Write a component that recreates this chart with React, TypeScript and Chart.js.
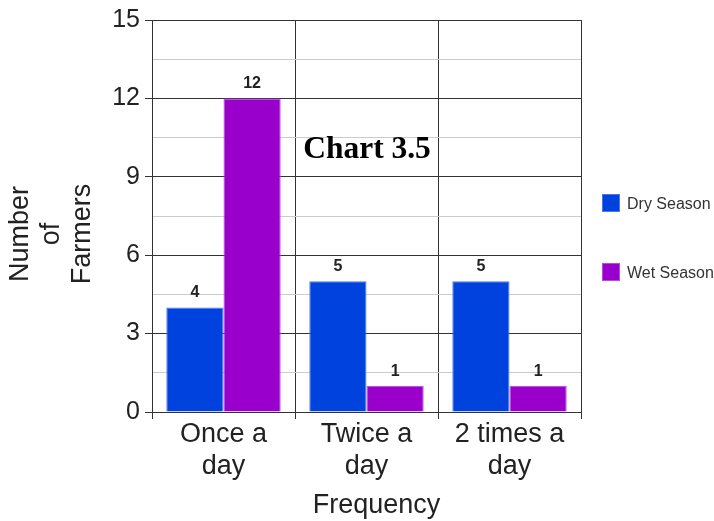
import React, { useEffect, useRef } from "react";
import { Chart, registerables } from "chart.js";

Chart.register(...registerables);

const categories: string[][] = [["Once a", "day"], ["Twice a", "day"], ["2 times a", "day"]];
const drySeason: number[] = [4, 5, 5];
const wetSeason: number[] = [12, 1, 1];
const seriesNames: string[] = ["Dry Season", "Wet Season"];
const yTitleLines: string[] = ["Number", "of", "Farmers"];
const xTitle = "Frequency";
const chartTitle = "Chart 3.5";

const FONT = "'Liberation Sans', Arial, sans-serif";

const overlayPlugin = {
  id: "overlay",
  afterDraw(chart: any) {
    const ctx = chart.ctx as CanvasRenderingContext2D;
    const area = chart.chartArea;
    ctx.save();
    // data labels
    ctx.font = `bold 16px ${FONT}`;
    ctx.fillStyle = "#222";
    ctx.textAlign = "center";
    ctx.textBaseline = "alphabetic";
    chart.data.datasets.forEach((ds: any, di: number) => {
      const meta = chart.getDatasetMeta(di);
      meta.data.forEach((bar: any, i: number) => {
        ctx.fillText(String(ds.data[i]), bar.x, bar.y - 10);
      });
    });
    // chart title
    ctx.font = `bold 31.5px 'Liberation Serif', 'Times New Roman', serif`;
    ctx.fillStyle = "#000";
    ctx.fillText(chartTitle, (area.left + area.right) / 2 + 0.5, area.top + 138);
    // x axis title
    ctx.font = `27px ${FONT}`;
    ctx.fillStyle = "#222";
    ctx.fillText(xTitle, (area.left + area.right) / 2 + 10, 513);
    // y axis title
    ctx.textBaseline = "middle";
    const cy = (area.top + area.bottom) / 2 + 18;
    yTitleLines.forEach((line, i) => {
      ctx.save();
      ctx.translate(21 + i * 31, cy);
      ctx.rotate(-Math.PI / 2);
      ctx.fillText(line, 0, 0);
      ctx.restore();
    });
    // legend
    ctx.textAlign = "left";
    ctx.font = `16px ${FONT}`;
    const legendY = [203, 272];
    chart.data.datasets.forEach((ds: any, di: number) => {
      const yy = legendY[di];
      ctx.fillStyle = ds.backgroundColor;
      ctx.fillRect(602, yy - 9, 18, 18);
      ctx.strokeStyle = ds.borderColor;
      ctx.lineWidth = 1;
      ctx.strokeRect(602.5, yy - 8.5, 17, 17);
      ctx.fillStyle = "#333";
      ctx.fillText(ds.label, 627, yy + 2);
    });
    ctx.restore();
  },
};

export default function App() {
  const ref = useRef<HTMLCanvasElement>(null);
  useEffect(() => {
    if (!ref.current) return;
    const chart = new Chart(ref.current, {
      type: "bar",
      data: {
        labels: categories as any,
        datasets: [
          {
            label: seriesNames[0],
            data: drySeason,
            backgroundColor: "#0042dd",
            borderColor: "#4a78ee",
            borderWidth: 1,
          },
          {
            label: seriesNames[1],
            data: wetSeason,
            backgroundColor: "#9900cc",
            borderColor: "#b84ade",
            borderWidth: 1,
          },
        ],
      },
      options: {
        animation: false,
        responsive: false,
        devicePixelRatio: 1,
        layout: { padding: { left: 0, right: 133, top: 18, bottom: 0 } },
        plugins: {
          legend: { display: false },
          tooltip: { enabled: false },
          title: { display: false },
        },
        datasets: { bar: { categoryPercentage: 0.8, barPercentage: 1 } } as any,
        scales: {
          x: {
            grid: {
              offset: true,
              color: "#333",
              tickColor: "#333",
              tickLength: 7,
              lineWidth: 1,
            },
            border: { color: "#333" },
            ticks: {
              font: { family: FONT, size: 27, lineHeight: 1.18 },
              color: "#222",
              padding: 0,
              maxRotation: 0,
              autoSkip: false,
            },
            title: { display: false },
            afterFit: (s: any) => {
              s.height = 109;
            },
          },
          y: {
            min: 0,
            max: 15,
            grid: {
              color: (c: any) => (c.tick && c.tick.value % 3 === 0 ? "#333" : "#cccccc"),
              tickColor: (c: any) => (c.tick && c.tick.value % 3 === 0 ? "#333" : "rgba(0,0,0,0)"),
              tickLength: 7,
              lineWidth: 1,
            },
            border: { color: "#333" },
            ticks: {
              stepSize: 1.5,
              font: { family: FONT, size: 25 },
              color: "#222",
              padding: 5,
              callback: (v: any) => (Number(v) % 3 === 0 ? String(v) : ""),
            },
            afterFit: (s: any) => {
              s.width = 152;
            },
          },
        },
      },
      plugins: [overlayPlugin],
    });
    return () => chart.destroy();
  }, []);
  return (
    <div style={{ position: "absolute", left: 0, top: 0, width: 714, height: 521, background: "#fff" }}>
      <canvas ref={ref} width={714} height={521} />
    </div>
  );
}
